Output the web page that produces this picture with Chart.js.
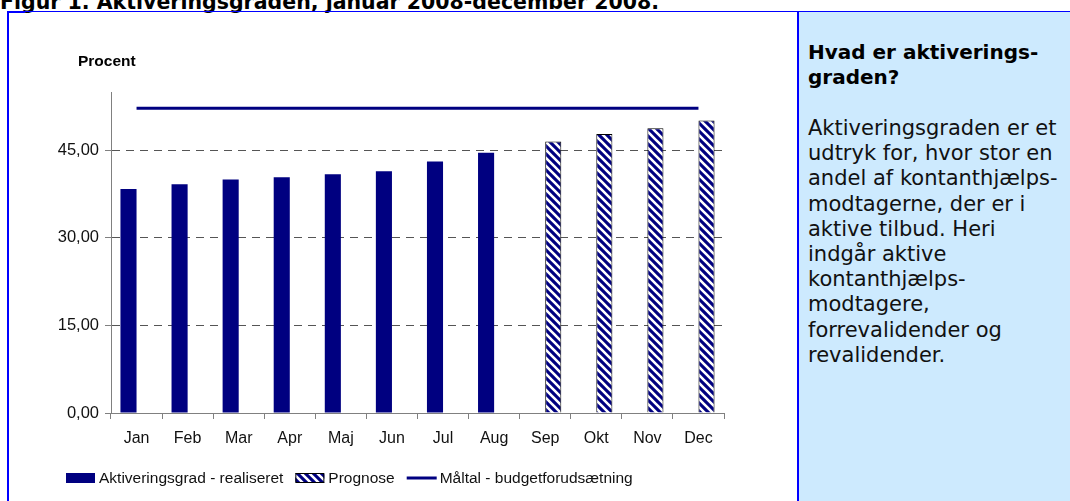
<!DOCTYPE html>
<html>
<head>
<meta charset="utf-8">
<script src="https://cdn.jsdelivr.net/npm/chart.js@4.4.1/dist/chart.umd.min.js"></script>
<style>
  body { margin: 0; width: 1070px; height: 501px; overflow: hidden; background: #fff; position: relative; }
  #title { position: absolute; left: 0; top: -8px; font: bold 20.5px/20px "DejaVu Sans", Verdana, sans-serif; color: #000; white-space: nowrap; }
  #frame { position: absolute; left: 7px; top: 11px; width: 1070px; height: 500px; border-left: 2px solid #0000ff; border-top: 1px solid #0000ff; }
  #stub { position: absolute; left: 7px; top: 11px; width: 18px; height: 2px; background: #0000ff; }
  #side { position: absolute; left: 797px; top: 12px; width: 273px; height: 489px; background: #cdeafe; border-left: 2px solid #0000ff; }
  #side h3 { margin: 0; position: absolute; left: 9px; top: 28px; font: bold 20px/25px "DejaVu Sans", Verdana, sans-serif; color: #000; white-space: nowrap; }
  #side p { margin: 0; position: absolute; left: 9px; top: 104px; font: 21px/25.2px "DejaVu Sans", Verdana, sans-serif; color: #111; white-space: nowrap; }
  #unit { position: absolute; left: 78px; top: 52px; font: bold 15.5px "Liberation Sans", Arial, sans-serif; color: #000; }
  #wrap { position: absolute; left: 9px; top: 13px; width: 788px; height: 488px; }
</style>
</head>
<body>
<div id="title">Figur 1. Aktiveringsgraden, januar 2008-december 2008.</div>
<div id="frame"></div>
<div id="stub"></div>
<div id="wrap"><canvas id="c"></canvas></div>
<div id="unit">Procent</div>
<div id="side">
  <h3>Hvad er aktiverings-<br>graden?</h3>
  <p>Aktiveringsgraden er et<br>udtryk for, hvor stor en<br>andel af kontanthjælps-<br>modtagerne, der er i<br>aktive tilbud. Heri<br>indgår aktive<br>kontanthjælps-<br>modtagere,<br>forrevalidender og<br>revalidender.</p>
</div>
<script>
// data
const months = ['Jan', 'Feb', 'Mar', 'Apr', 'Maj', 'Jun', 'Jul', 'Aug', 'Sep', 'Okt', 'Nov', 'Dec'];
const realiseret = [38.4, 39.2, 40.0, 40.4, 40.9, 41.4, 43.1, 44.6, null, null, null, null];
const prognose = [null, null, null, null, null, null, null, null, 46.5, 47.8, 48.8, 50.1];
const maltal = [52.2, 52.2, 52.2, 52.2, 52.2, 52.2, 52.2, 52.2, 52.2, 52.2, 52.2, 52.2];
const yTicks = [0, 15, 30, 45];

const NAVY = '#000080';
const ARIAL = '"Liberation Sans", Arial, sans-serif';

// stribet mønster til prognose
const makeStripes = () => {
  const p = document.createElement('canvas');
  p.width = 8; p.height = 8;
  const g = p.getContext('2d');
  g.fillStyle = NAVY;
  g.fillRect(0, 0, 8, 8);
  g.strokeStyle = '#fff';
  g.lineWidth = 2.6;
  g.beginPath();
  g.moveTo(-2, -2); g.lineTo(10, 10);
  g.moveTo(-10, -2); g.lineTo(2, 10);
  g.moveTo(6, -2); g.lineTo(18, 10);
  g.stroke();
  return g.createPattern(p, 'repeat');
};
const stripes = makeStripes();

// egen forklaring i bunden
const legendPlugin = {
  id: 'bottomLegend',
  afterDraw(chart) {
    const ctx = chart.ctx;
    const y = 465;
    let x = 57;
    ctx.save();
    ctx.font = '15.5px ' + ARIAL;
    ctx.textBaseline = 'middle';
    chart.data.datasets.forEach((ds) => {
      if (ds.type === 'line') {
        ctx.strokeStyle = ds.borderColor;
        ctx.lineWidth = 3;
        ctx.beginPath();
        ctx.moveTo(x, y);
        ctx.lineTo(x + 30, y);
        ctx.stroke();
      } else {
        ctx.fillStyle = ds.backgroundColor;
        ctx.fillRect(x, y - 5, 29, 10);
        if (ds.borderWidth) {
          ctx.strokeStyle = '#000';
          ctx.lineWidth = 1;
          ctx.strokeRect(x + 0.5, y - 4.5, 28, 9);
        }
      }
      ctx.fillStyle = '#111';
      ctx.fillText(ds.label, x + 33, y + 1);
      x += 33 + ctx.measureText(ds.label).width + 12;
    });
    ctx.restore();
  },
};

new Chart(document.getElementById('c'), {
  type: 'bar',
  data: {
    labels: months,
    datasets: [
      { label: 'Aktiveringsgrad - realiseret', data: realiseret, backgroundColor: NAVY, borderWidth: 0, order: 2 },
      { label: 'Prognose', data: prognose, backgroundColor: stripes, borderColor: '#000', borderWidth: 1, order: 2 },
      { type: 'line', label: 'Måltal - budgetforudsætning', data: maltal, borderColor: NAVY, borderWidth: 3, pointRadius: 0, order: 1 },
    ],
  },
  options: {
    responsive: true,
    maintainAspectRatio: false,
    animation: false,
    categoryPercentage: 0.63,
    barPercentage: 1,
    layout: { padding: { left: 0, top: 79, right: 73, bottom: 38 } },
    plugins: { legend: { display: false }, tooltip: { enabled: false } },
    scales: {
      x: {
        offset: true,
        grid: { offset: true, drawOnChartArea: false, tickLength: 6, tickColor: '#808080' },
        border: { color: '#808080', width: 1 },
        ticks: { color: '#111', font: { family: ARIAL, size: 16 }, padding: 10 },
        afterFit: (s) => { s.height = 50; },
      },
      y: {
        min: 0,
        max: 55,
        afterBuildTicks: (s) => { s.ticks = yTicks.map((v) => ({ value: v })); },
        grid: {
          color: (c) => (c.tick && c.tick.value === 0 ? 'rgba(0,0,0,0)' : '#555'),
          tickColor: '#808080',
          tickLength: 6,
          tickBorderDash: [],
        },
        border: { color: '#808080', width: 1, dash: [8, 6] },
        ticks: {
          color: '#111',
          font: { family: ARIAL, size: 16.5 },
          padding: 6,
          callback: (v) => v.toFixed(2).replace('.', ','),
        },
        afterFit: (s) => { s.width = 102; },
      },
    },
  },
  plugins: [legendPlugin],
});
</script>
</body>
</html>
